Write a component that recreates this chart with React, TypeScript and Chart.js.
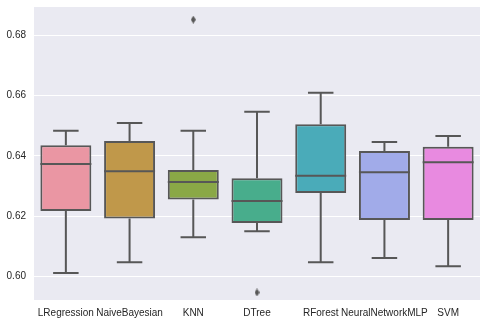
import React, { useEffect, useRef } from "react";
import { Chart, registerables } from "chart.js";

Chart.register(...registerables);

const CATEGORIES = ["LRegression", "NaiveBayesian", "KNN", "DTree", "RForest", "NeuralNetworkMLP", "SVM"];
const WHISKER_LOW = [0.6012, 0.6048, 0.6131, 0.6151, 0.6048, 0.6062, 0.6035];
const Q1 = [0.6218, 0.6193, 0.6256, 0.6178, 0.6277, 0.6188, 0.6188];
const MEDIAN = [0.6373, 0.6349, 0.6314, 0.6251, 0.6334, 0.6346, 0.6379];
const Q3 = [0.6435, 0.6449, 0.6353, 0.6326, 0.6505, 0.6416, 0.6430];
const WHISKER_HIGH = [0.6483, 0.6509, 0.6483, 0.6546, 0.6609, 0.6446, 0.6466];
const OUTLIERS: { x: string; y: number }[] = [
  { x: "KNN", y: 0.6851 },
  { x: "DTree", y: 0.5948 },
];
const COLORS = ["#ea96a3", "#c0984a", "#8aa846", "#48ad8c", "#4aabb9", "#a1abe9", "#e88ae0"];
const Y_TICKS = [0.6, 0.62, 0.64, 0.66, 0.68];
const Y_MIN = 0.5923;
const Y_MAX = 0.6893;

const LINE = "#575757";

function makeDiamond(): HTMLCanvasElement {
  const c = document.createElement("canvas");
  c.width = 5;
  c.height = 8;
  const g = c.getContext("2d")!;
  g.fillStyle = LINE;
  g.beginPath();
  g.moveTo(2.5, 0);
  g.lineTo(5, 4);
  g.lineTo(2.5, 8);
  g.lineTo(0, 4);
  g.closePath();
  g.fill();
  return c;
}

const boxPlugin = {
  id: "boxParts",
  beforeDraw(chart: any) {
    const { ctx, chartArea } = chart;
    ctx.save();
    ctx.fillStyle = "#eaeaf2";
    ctx.fillRect(chartArea.left, chartArea.top, chartArea.right - chartArea.left, chartArea.bottom - chartArea.top);
    ctx.restore();
  },
  afterDatasetsDraw(chart: any) {
    const { ctx } = chart;
    const xs = chart.scales.x;
    const ys = chart.scales.y;
    const meta = chart.getDatasetMeta(0);
    ctx.save();
    ctx.strokeStyle = LINE;
    ctx.lineWidth = 2;
    ctx.lineCap = "butt";
    CATEGORIES.forEach((c, i) => {
      const bar = meta.data[i];
      const cx = xs.getPixelForValue(i);
      const half = bar.width / 2;
      const capHalf = half / 2;
      const yLow = ys.getPixelForValue(WHISKER_LOW[i]);
      const yHigh = ys.getPixelForValue(WHISKER_HIGH[i]);
      const yQ1 = ys.getPixelForValue(Q1[i]);
      const yQ3 = ys.getPixelForValue(Q3[i]);
      const yMed = ys.getPixelForValue(MEDIAN[i]);
      ctx.beginPath();
      ctx.moveTo(cx, yQ1);
      ctx.lineTo(cx, yLow);
      ctx.moveTo(cx, yQ3);
      ctx.lineTo(cx, yHigh);
      ctx.moveTo(cx - capHalf, yLow);
      ctx.lineTo(cx + capHalf, yLow);
      ctx.moveTo(cx - capHalf, yHigh);
      ctx.lineTo(cx + capHalf, yHigh);
      ctx.moveTo(cx - half, yMed);
      ctx.lineTo(cx + half, yMed);
      ctx.stroke();
    });
    ctx.restore();
  },
};

export default function App() {
  const ref = useRef<HTMLCanvasElement | null>(null);
  useEffect(() => {
    if (!ref.current) return;
    const chart = new Chart(ref.current, {
      type: "bar",
      data: {
        labels: CATEGORIES,
        datasets: [
          {
            type: "bar",
            data: CATEGORIES.map((_, i) => [Q1[i], Q3[i]]) as any,
            backgroundColor: COLORS,
            borderColor: LINE,
            borderWidth: 2,
            borderSkipped: false,
            barPercentage: 0.8,
            categoryPercentage: 1,
          } as any,
          {
            type: "line",
            data: OUTLIERS as any,
            showLine: false,
            pointStyle: makeDiamond(),
            pointRadius: 3,
          } as any,
        ],
      },
      options: {
        responsive: false,
        animation: false,
        layout: { padding: { top: 7, right: 7, left: 0, bottom: 0 } },
        plugins: { legend: { display: false }, tooltip: { enabled: false } },
        scales: {
          x: {
            grid: { display: false, drawTicks: false },
            border: { display: false },
            ticks: {
              color: "#262626",
              padding: 7,
              maxRotation: 0,
              autoSkip: false,
              font: { family: "'Liberation Sans', Arial, sans-serif", size: 10 },
            },
            afterFit(scale: any) {
              scale.height = 29;
              scale.paddingLeft = 0;
              scale.paddingRight = 0;
            },
          },
          y: {
            min: Y_MIN,
            max: Y_MAX,
            grid: { color: "#ffffff", lineWidth: 1, drawTicks: false },
            border: { display: false },
            ticks: {
              color: "#262626",
              padding: 8,
              font: { family: "'Liberation Sans', Arial, sans-serif", size: 10 },
              callback: (v: any) => Number(v).toFixed(2),
            },
            afterBuildTicks(scale: any) {
              scale.ticks = Y_TICKS.map((v) => ({ value: v }));
            },
            afterFit(scale: any) {
              scale.width = 34;
              scale.paddingTop = 0;
              scale.paddingBottom = 0;
            },
          },
        },
      },
      plugins: [boxPlugin],
    });
    return () => chart.destroy();
  }, []);
  return (
    <div style={{ position: "fixed", left: 0, top: 0, width: 487, height: 329, background: "#fff" }}>
      <canvas ref={ref} width={487} height={329} style={{ width: 487, height: 329 }} />
    </div>
  );
}
